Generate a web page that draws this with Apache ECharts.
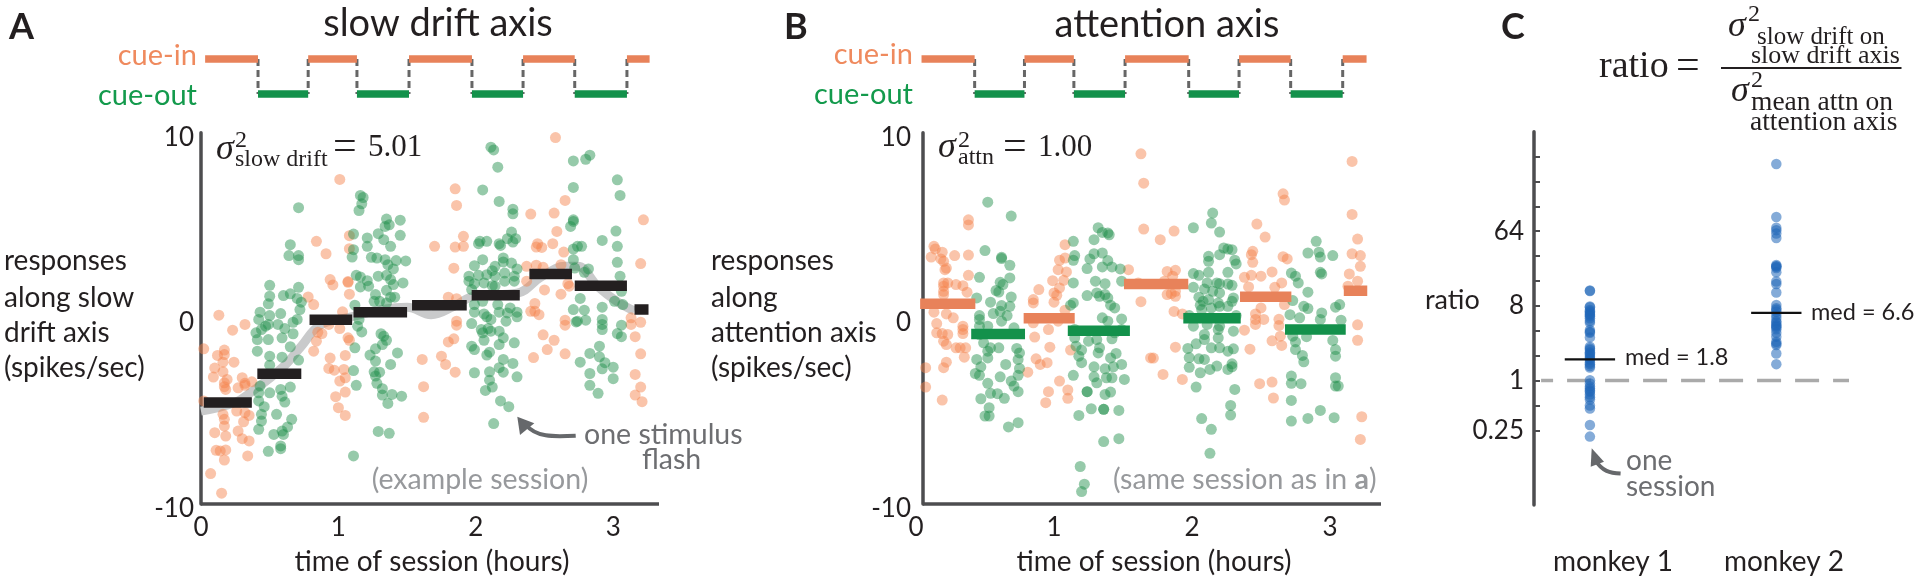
<!DOCTYPE html>
<html>
<head>
<meta charset="utf-8">
<title>slow drift and attention axes</title>
<script src="https://cdn.jsdelivr.net/npm/echarts@6/dist/echarts.min.js"></script>
<style>
html, body { margin: 0; padding: 0; background: #fff; }
#chart { width: 1920px; height: 581px; }
</style>
</head>
<body>
<div id="chart"></div>
<script>
// panel A: hours, spikes/sec
const slowCueEdges = [0.03, 0.415, 0.78, 1.135, 1.514, 1.972, 2.344, 2.72, 3.10, 3.265]
const slowOrange = [[1.01,7.48],[.84,4.15],[.91,3.48],[1.08,4.45],[1.08,3.75],[.94,2.09],[.96,1.8],[1.07,1.98],[1.07,1.94],[1.08,1.3],[.78,1.15],[.82,.74],[.13,.17],[.32,-.33],[.23,-.64],[1.03,.35],[1.01,-.55],[.93,-.33],[1.07,-1.05],[1.08,-1.18],[.85,-.75],[.84,-1.23],[.88,-.82],[.82,-1.77],[.02,-1.64],[.17,-1.71],[.12,-2],[.17,-1.95],[.16,-2.36],[.24,-2.36],[.1,-2.68],[.16,-2.88],[.09,-3.16],[.19,-3.29],[.17,-3.47],[.17,-3.68],[.18,-3.83],[.3,-3.2],[.32,-3.5],[.27,-3.74],[.37,-3.42],[.32,-3.61],[.94,-2.14],[1.05,-2],[.93,-2.7],[.97,-2.79],[1.04,-2.75],[1.01,-3.38],[1.05,-3.2],[.98,-4.22],[1.05,-3.97],[1,-4.81],[1.05,-5.23],[1.61,-2.21],[1.62,-3.68],[1.62,-5.33],[.02,-4.45],[.26,-4.99],[.32,-5.08],[.35,-5.23],[.16,-5.17],[.17,-5.44],[.17,-5.8],[.31,-5.57],[.27,-6.07],[.1,-6.16],[.18,-6.34],[.3,-6.48],[.35,-6.6],[.11,-7.11],[.14,-7.14],[.18,-7.09],[.17,-7.63],[.34,-7.41],[.07,-8.36],[.15,-9.42],
    [2.58,9.74],[1.85,6.98],[1.86,6.08],[2.65,6.35],[2.4,5.62],[2.57,5.67],[2.59,4.68],[1.91,4.42],[1.7,3.88],[1.85,3.84],[1.91,3.88],[2.56,4.02],[2.45,4.02],[2.44,3.84],[2.48,3.82],[2.64,3.57],[3.2,2.95],[3.22,5.31],[1.84,2.7],[2.37,2.8],[2.44,2.86],[2.49,2.75],[2.62,2.89],[2.37,2],[2.5,1.53],[2.62,1.3],[2.67,1.87],[2.68,1.73],[1.8,1.14],[1.86,1.06],[2.43,.8],[2.4,.38],[2.43,.38],[2.46,.2],[1.86,-.15],[1.86,-.37],[2.65,-.1],[2.65,-.37],[3.13,.03],[3.13,-.33],[3.2,-.21],[3.16,-.99],[1.84,-1.1],[1.8,-1.27],[2.49,-.89],[2.57,-1.18],[2.52,-1.68],[2.42,-2.11],[2.65,-1.91],[3.2,-1.91],[1.75,-2.04],[1.78,-2.48],[1.85,-2.9],[3.16,-3.02],[3.2,-3.7],[3.16,-4.13],[3.21,-4.49]]
const slowGreen = [[.71,5.96],[1.16,6.62],[1.18,6.51],[1.17,6.17],[1.15,5.81],[.65,3.97],[.64,3.38],[.71,3.38],[.71,3.16],[1.35,5.35],[1.45,5.29],[1.37,5.04],[1.34,4.95],[1.29,4.56],[1.45,4.47],[1.33,4.24],[1.11,4.54],[1.21,4.33],[1.21,3.88],[1.38,3.88],[1.11,3.7],[1.1,3.3],[1.24,3.29],[1.28,3.25],[1.34,3.16],[1.49,3.09],[1.42,3.11],[1.36,2.89],[1.4,2.66],[1.13,2.32],[1.16,2.23],[1.29,2.27],[1.35,2.32],[1.21,2.03],[1.22,1.73],[1.16,1.69],[1.38,2.09],[1.4,1.82],[1.47,1.91],[.5,1.78],[.71,1.67],[.65,1.32],[.6,1.23],[.5,1.19],[.49,.78],[.7,1.07],[.73,.87],[.72,.47],[1.27,1.28],[1.35,1.51],[1.41,1.14],[1.38,1.14],[1.26,.92],[1.3,.92],[1.35,.83],[1.12,.71],[.43,.33],[.5,.15],[.58,.26],[.42,-.06],[.49,-.33],[.56,-.33],[.7,-.06],[.67,-.21],[.47,-.42],[.44,-.6],[.4,-.78],[.41,-1.14],[.49,-1.14],[.61,-.55],[.67,-.83],[.59,-1.05],[.65,-1.53],[1.15,-.06],[1.14,-.42],[1.17,-.73],[1.31,-.83],[1.33,-.96],[1.35,-1.18],[1.32,-1.41],[1.27,-1.64],[1.23,-1.98],[1.43,-1.86],[1.12,-1.59],[.41,-1.77],[.5,-2.04],[.59,-2.09],[.71,-2.25],[.5,-2.52],[1.27,-2.3],[1.38,-2.48],[1.11,-2.81],[1.13,-3.61],[1.26,-2.88],[1.3,-2.9],[1.27,-3.11],[1.28,-3.5],[1.32,-3.79],[1.32,-4.13],[1.39,-4.1],[1.46,-4.19],[1.36,-4.58],[.43,-3.65],[.42,-4.01],[.42,-4.45],[.5,-4.01],[.58,-3.83],[.59,-4.19],[.65,-3.7],[.61,-4.51],[.46,-4.76],[.44,-5.17],[.55,-5.17],[.44,-5.53],[.66,-5.44],[.42,-5.98],[.63,-5.85],[.59,-6.07],[.53,-6.25],[.6,-6.25],[1.29,-6.09],[1.37,-6.19],[.58,-6.87],[.58,-7.02],[.49,-7.16],[1.11,-7.41],
    [2.11,9.22],[2.13,9.07],[2.16,8.14],[2.05,6.92],[2.17,6.3],[2.27,5.88],[2.27,5.63],[2.71,8.48],[2.8,8.57],[2.83,8.79],[2.71,7.05],[3.03,7.46],[3.05,6.62],[2.71,5.31],[2.71,5.22],[2.69,4.95],[3.02,4.7],[2.26,4.65],[2.23,4.29],[2.29,4.29],[2.03,4.15],[2.02,4.02],[2.08,4.15],[2.17,4.02],[2.18,3.93],[2.27,4.11],[2.74,3.88],[2.77,3.88],[2.71,3.73],[2.92,4.2],[3.03,3.88],[2.05,3.16],[2.2,3.25],[2.2,3.04],[2.26,2.98],[1.99,2.84],[2.14,2.8],[2.12,2.57],[2.3,2.66],[2.71,3.16],[2.72,2.71],[3.03,3.02],[2.82,2.66],[2.79,2.48],[1.95,2.27],[1.95,2],[2.02,2.32],[2.08,2.35],[2.14,2.27],[2.21,2.44],[2.28,2.27],[2.28,2],[1.99,1.87],[2.06,1.91],[2.12,1.76],[2.21,2],[3.05,2.27],[1.97,1.55],[2.14,1.73],[3.06,1.46],[1.99,.74],[2.05,.92],[2.16,.74],[1.99,.33],[2.06,.24],[2.17,.33],[2.25,.56],[2.23,.29],[2.3,.33],[2.3,.08],[2.08,.08],[2.11,-.06],[2.22,-.15],[1.97,-.28],[2.76,1.07],[2.92,.6],[2.71,.47],[2.79,.44],[2.8,-.1],[2.74,-.15],[2.73,-.19],[2.92,-.06],[2.92,-.33],[2.92,-.6],[2.04,-.6],[2.09,-.55],[2.05,-.78],[2.11,-.69],[2.17,-.69],[2.2,-1.05],[2.06,-1.18],[3.01,.92],[3.07,.74],[3.06,-.37],[3.03,-.82],[3.06,-.99],[2.28,-1.32],[1.97,-1.5],[1.99,-1.68],[2.17,-1.41],[2.9,-1.5],[2.1,-1.82],[2.08,-1.98],[2.83,-1.89],[2.9,-2.07],[2.94,-2.39],[2.76,-2.36],[2.2,-2.21],[2.27,-2.43],[2.17,-2.66],[2.2,-2.9],[1.99,-2.93],[2.1,-2.88],[2.92,-2.72],[3,-2.63],[2.83,-2.97],[3,-3.25],[2.1,-3.33],[2.3,-3.15],[2.12,-3.7],[2.07,-3.88],[2.83,-3.61],[2.89,-4.04],[2.18,-4.45],[2.24,-4.76],[2.13,-5.67]]
const slowDriftCurve = [[0,-5],[.24,-4.55],[.36,-4],[.6,-2.6],[.73,-1.5],[.86,-.4],[1.04,0],[1.5,.6],[1.675,.2],[1.84,.65],[1.99,1.2],[2.3,1.35],[2.48,2.25],[2.65,2.8],[2.74,2.8],[2.89,1.7],[3.03,.9],[3.155,.4]]
const slowMeanStart = [.02, .41, .79, 1.11, 1.536, 1.97, 2.39, 2.72, 3.155]
const slowMeanEnd = [.37, .73, 1.10, 1.50, 1.934, 2.32, 2.70, 3.10, 3.257]
const slowMeanValue = [-4.53, -2.99, -.07, .33, .71, 1.24, 2.39, 1.76, .47]

// panel B: hours, spikes/sec
const attnCueEdges = [0.04, 0.425, 0.786, 1.144, 1.515, 1.976, 2.341, 2.715, 3.092, 3.265]
const attnOrange = [[1.63,8.86],[1.65,7.28],[1.65,4.81],[.38,5.31],[.38,5.03],[.13,3.88],[.14,3.73],[.19,3.56],[.11,3.3],[.28,3.38],[.38,3.41],[.18,3.2],[.2,3.07],[.22,2.71],[.21,2.62],[.38,2.32],[.23,1.91],[.2,1.91],[.2,1.73],[.2,1.46],[.29,1.82],[.34,1.76],[.37,1.41],[.2,1.28],[1.08,3.97],[1.08,3.25],[1.04,3.13],[1.03,2.62],[1.09,2.5],[.99,2.03],[1.07,2.05],[1.04,1.64],[1,1.37],[1.02,1.24],[.89,1.55],[.85,1.01],[.85,.83],[1,.87],[1.08,.44],[1.54,2.62],[1.61,1.91],[1.63,.9],[.13,.33],[.22,.24],[.27,.03],[.15,-.28],[.34,-.42],[.34,-.6],[.15,-.78],[.19,-.82],[.23,-.87],[.34,-.82],[.2,-1.23],[.22,-1.41],[.29,-1.59],[.32,-1.59],[.36,-1.59],[.35,-2.09],[.22,-2.36],[.2,-2.66],[.07,-2.66],[.07,-3.7],[.19,-4.4],[.85,-.24],[.96,-.6],[.86,-1.01],[.97,-1.55],[1.03,-.15],[1.12,-1.71],[.87,-2.18],[.9,-2.48],[.95,-2.39],[.81,-2.9],[1.04,-3.38],[1.1,-3.86],[.96,-3.95],[1.1,-4.31],[.94,-4.54],[1.7,-2.13],
    [3.16,8.45],[2.66,6.71],[2.67,6.37],[3.16,5.6],[1.87,4.7],[2.47,5.08],[1.77,4.24],[2.53,4.38],[3.2,4.27],[2.44,3.61],[2.43,3.43],[2.66,3.32],[2.69,3.2],[3.16,3.48],[3.22,3.38],[2.44,3.02],[3.22,2.8],[2.58,2.5],[1.82,2.53],[1.88,2.59],[1.86,2.27],[2.38,2.21],[2.43,2.32],[2.5,2.27],[3.14,2.39],[1.8,2],[2.41,1.69],[2.65,1.91],[2.6,1.67],[3.2,2],[3.13,1.73],[1.82,1.28],[1.85,1.33],[1.88,1.19],[1.88,1.46],[2.67,.74],[2.5,.56],[1.87,.37],[1.93,.24],[2.46,.24],[2.46,-.06],[2.52,-.06],[2.63,-.05],[2.63,-.39],[2.46,-.33],[2.38,-.64],[2.64,-.96],[2.58,-1.21],[2.65,-1.46],[3.2,-.35],[3.2,-1.18],[1.88,-1.55],[2.42,-1.66],[1.72,-2.14],[1.79,-3.02],[1.93,-3.29],[2.49,-3.52],[2.58,-3.43],[2.59,-4.29],[3.23,-5.3],[3.22,-6.52]]
const attnGreen = [[.52,6.26],[.69,5.51],[1.32,4.88],[1.35,4.63],[1.39,4.6],[1.4,4.5],[1.29,4.24],[1.14,4.15],[.5,3.65],[1.29,3.48],[1.35,3.52],[1.15,3.38],[1.14,3.13],[.62,3.29],[.62,3.22],[.68,2.86],[1.26,3.2],[1.39,3.11],[1.24,2.68],[1.35,2.77],[1.42,2.77],[1.48,2.66],[.46,2.21],[.68,2.18],[.61,1.94],[.63,1.82],[.58,1.5],[.6,1.42],[1.14,1.91],[1.3,2],[1.37,1.87],[1.49,2],[.69,1.15],[.44,1.1],[1.24,1.23],[1.31,1.37],[1.33,1.19],[1.37,1.28],[1.39,1.1],[1.14,.83],[1.12,.71],[.54,.87],[.62,.69],[.68,.65],[.61,.38],[1.41,.71],[1.44,.56],[.46,.15],[.46,-.06],[.56,.26],[.66,.15],[.62,-.15],[1.35,.03],[1.39,-.15],[1.49,-.03],[.46,-.42],[.52,-.42],[.71,-.51],[1.15,-.6],[1.49,-.6],[1.44,-.78],[.46,-.87],[.49,-1.32],[.54,-1.59],[.6,-1.59],[.52,-1.77],[.73,-1.62],[.75,-1.86],[.74,-2.21],[.44,-2.21],[.52,-2.13],[.47,-2.61],[.65,-2.48],[.75,-2.7],[.74,-3.07],[.43,-2.97],[.46,-3.07],[.61,-3.15],[.52,-3.5],[.69,-3.38],[.71,-3.65],[.74,-3.95],[.54,-4.04],[.59,-4.06],[.64,-4.31],[.47,-4.33],[.53,-4.81],[.5,-5.26],[.53,-5.26],[.67,-5.85],[.74,-5.62],[1.15,-1.05],[1.25,-1.23],[1.31,-1.14],[1.42,-1.1],[1.16,-1.5],[1.33,-1.59],[1.2,-1.71],[1.18,-2.04],[1.2,-2.39],[1.32,-1.86],[1.41,-2.13],[1.45,-1.89],[1.49,-2.48],[1.43,-2.61],[1.37,-2.72],[1.29,-2.61],[1.14,-3.07],[1.29,-3.15],[1.31,-3.47],[1.38,-3.2],[1.42,-3.2],[1.51,-3.29],[1.24,-3.95],[1.24,-3.95],[1.37,-4.1],[1.41,-3.97],[1.27,-4.87],[1.36,-4.9],[1.36,-4.9],[1.47,-4.96],[1.18,-5.23],[1.36,-6.64],[1.47,-6.48],[1.19,-7.98],[1.22,-8.93],[1.2,-9.33],
    [2.15,5.67],[2.14,5.13],[2.01,4.88],[2.2,4.65],[2.23,3.79],[2.26,3.73],[2.29,3.7],[2.2,3.43],[2.12,3.34],[2.12,3.07],[2.31,3.13],[2.32,2.93],[2.84,3.52],[2.9,4.15],[2.92,3.56],[2.93,3.3],[3.02,3.38],[2.01,2.41],[2.05,2.32],[2.12,2.48],[2.26,2.48],[2.93,2.48],[2.94,2.39],[2.72,2.44],[2.75,2.27],[2.77,1.91],[2.18,1.91],[2.2,1.87],[2.26,1.85],[2.11,1.91],[2.29,1.78],[2.01,1.67],[2.09,1.58],[2.15,1.46],[2.05,1.14],[2.2,1.37],[2.3,1.1],[2.84,1.41],[2.08,.92],[2.12,1.01],[2.19,.83],[2.29,.92],[2.26,.65],[2.06,.71],[2.07,.47],[2.14,.56],[2.2,.65],[2.73,.96],[2.81,.65],[2.84,.53],[3.04,.6],[3.07,.74],[2.94,.29],[1.98,.15],[2.32,.15],[2.71,.2],[2.78,.03],[2.93,-.06],[3.08,-.1],[2.01,-.42],[2.11,-.33],[2.2,-.42],[2.3,-.69],[2.19,-.6],[2.09,-.87],[2.19,-1.05],[2.09,-1.14],[2.03,-1.37],[2.14,-1.59],[2.2,-1.59],[1.97,-1.62],[2.3,-1.64],[2.26,-1.77],[2.73,-.96],[2.83,-.99],[2.75,-1.27],[3.02,-1.19],[2.75,-1.68],[3.04,-1.68],[2.8,-2],[3.04,-2.04],[1.98,-2.11],[2.05,-2.18],[2.09,-2.21],[2.81,-2.34],[1.98,-2.64],[2.13,-2.75],[2.06,-2.93],[2.18,-2.57],[2.26,-2.75],[2.29,-2.45],[2.29,-2.61],[2.72,-3.11],[2.72,-3.5],[2.79,-3.52],[3.04,-3.2],[3.04,-3.65],[3.06,-3.65],[2.03,-3.7],[2.31,-3.83],[2.72,-4.42],[2.28,-4.69],[2.28,-5.21],[2.93,-4.96],[2.07,-5.4],[2.14,-5.98],[2.72,-5.53],[2.84,-5.39],[3.03,-5.35],[2.13,-7.27]]
const attnOrangeStart = [.03, .78, 1.507, 2.348, 3.10]
const attnOrangeEnd = [.43, 1.15, 1.973, 2.72, 3.27]
const attnOrangeValue = [.78, .01, 1.85, 1.17, 1.49]
const attnGreenStart = [.40, 1.10, 1.937, 2.674]
const attnGreenEnd = [.79, 1.55, 2.353, 3.114]
const attnGreenValue = [-.84, -.67, 0, -.6]

// panel C: ratio per session
const monkey1Ratio = [12.3,12.1,7.85,7.7,7.16,6.9,6.64,6.4,6.23,6,5.67,5.3,5.02,4.09,3.9,3.79,3.33,2.56,2.45,2.34,2.2,2.13,2.05,1.94,1.85,1.77,1.65,1.58,1.5,1.44,1.01,.92,.85,.8,.76,.73,.68,.63,.59,.5,.46,.29,.21]
const monkey2Ratio = [416,95,70.6,66,60,53,25,24.2,24,23,20.4,15.8,14.7,11.6,8.2,7.5,7.2,6.8,6.2,5.7,5.2,5,4.7,4.57,4.4,4.17,3.8,3.4,2.95,2.8,2.69,2.13,1.58]
const monkey1Median = 1.8
const monkey2Median = 6.6
const ratioTickExp = [-2, -1, 0, 1, 2, 3, 4, 5, 6, 7, 8, 9]
const ratioLabelExp = [-2, 0, 3, 6]
const unityRatio = 1

const hourTicks = [0, 1, 2, 3]
const responseTicks = [-10, 0, 10]

const ORANGE_DOT = '#f4814a'
const GREEN_DOT = '#1f8f4a'
const ORANGE_BAR = '#e8825a'
const GREEN_BAR = '#13914b'
const AXIS = '#4d4d4f'
const TEXT = '#231f20'
const GREY_TEXT = '#6d6e71'
const LIGHT_TEXT = '#97999c'
const SANS = 'Lato, "Noto Sans", sans-serif'
const SERIF = '"Liberation Serif", serif'

function segments (starts, ends, values) {
    let out = []
    starts.forEach((s, i) => {
        out.push([s, values[i]], [ends[i], values[i]], [ends[i], null])
    })
    return out
}

// cue strip: in-cue on odd runs, out-cue on even runs
function cueRuns (edges, level, first) {
    let out = []
    for (let i = first; i < edges.length - 1; i += 2) {
        out.push([edges[i], level], [edges[i + 1], level], [edges[i + 1], null])
    }
    return out
}

function cueLinks (edges) {
    let out = []
    edges.slice(1, -1).forEach(e => {
        out.push([e, 1], [e, 0], [e, null])
    })
    return out
}

function lineSeries (grid, data, color, width, z, extra) {
    return Object.assign({
        type: 'line',
        xAxisIndex: grid,
        yAxisIndex: grid,
        data: data,
        showSymbol: false,
        symbol: 'none',
        silent: true,
        clip: false,
        z: z,
        lineStyle: { color: color, width: width, cap: 'butt' }
    }, extra || {})
}

function dots (grid, data, color) {
    return {
        type: 'scatter',
        xAxisIndex: grid,
        yAxisIndex: grid,
        data: data,
        symbolSize: 11,
        silent: true,
        clip: false,
        z: 3,
        itemStyle: { color: color, opacity: 0.47, borderWidth: 0 }
    }
}

function txt (text, x, y, size, fill, opts) {
    opts = opts || {}
    return {
        type: 'text',
        silent: true,
        z: 20,
        style: {
            text: text,
            x: x,
            y: y,
            font: (opts.weight || 'normal') + ' ' + size + 'px ' + (opts.family || SANS),
            fill: fill,
            textAlign: opts.align || 'left',
            textVerticalAlign: 'middle',
            rich: opts.rich
        }
    }
}

function responseAxes (left, width, max, offset, labelMargin) {
    return {
        grid: { left: left, top: 132.7, width: width, height: 371.3 },
        xAxis: {
            type: 'value', min: 0, max: max, splitLine: { show: false },
            axisLine: { show: false }, axisTick: { show: false },
            axisLabel: { customValues: hourTicks, margin: 11, fontSize: 26, fontFamily: SANS, color: TEXT }
        },
        yAxis: {
            type: 'value', min: -10, max: 10, offset: offset, splitLine: { show: false },
            axisLine: { show: true, onZero: false, lineStyle: { color: AXIS, width: 3.5 } }, axisTick: { show: false },
            axisLabel: { customValues: responseTicks, margin: labelMargin, fontSize: 26, fontFamily: SANS, color: TEXT, verticalAlign: 'top', lineHeight: 9 }
        }
    }
}

function cueAxes (left, width, max) {
    return {
        grid: { left: left, top: 59, width: width, height: 35 },
        xAxis: { type: 'value', min: 0, max: max, show: false },
        yAxis: { type: 'value', min: 0, max: 1, show: false }
    }
}

function arrow (curve, head) {
    return [
        { type: 'bezierCurve', silent: true, z: 19, shape: curve, style: { stroke: '#66686b', lineWidth: 4, fill: null } },
        { type: 'polygon', silent: true, z: 19, shape: { points: head }, style: { fill: '#66686b' } }
    ]
}

let slow = responseAxes(201, 458, 458 / 137.4, 0, 7)
let attn = responseAxes(916, 465, 465 / 138, -7, 12)
let slowCue = cueAxes(201, 458, 458 / 137.4)
let attnCue = cueAxes(916, 465, 465 / 138)

let ratioGrid = { left: 1534, top: 131.7, width: 315, height: 373.3 }
let ratioX = { type: 'value', min: 0.7, max: 2.39, show: false }
let ratioY = {
    type: 'value', min: -5, max: 10, splitLine: { show: false },
    axisLine: { show: true, onZero: false, lineStyle: { color: AXIS, width: 3.5 } },
    axisTick: { show: true, inside: true, length: 6, customValues: ratioTickExp, lineStyle: { color: AXIS, width: 2 } },
    axisLabel: {
        customValues: ratioLabelExp, margin: 10, fontSize: 26, fontFamily: SANS, color: TEXT,
        formatter: v => String(Math.pow(2, v))
    }
}

let series = [
    // panel A
    lineSeries(0, slowDriftCurve, '#c9cacb', 9, 2, { smooth: 0.4 }),
    dots(0, slowOrange, ORANGE_DOT),
    dots(0, slowGreen, GREEN_DOT),
    lineSeries(0, segments(slowMeanStart, slowMeanEnd, slowMeanValue), '#231f20', 10.5, 5),
    lineSeries(0, [[0, -10], [458 / 137.4, -10]], AXIS, 3.5, 4),
    // panel B
    dots(1, attnOrange, ORANGE_DOT),
    dots(1, attnGreen, GREEN_DOT),
    lineSeries(1, segments(attnOrangeStart, attnOrangeEnd, attnOrangeValue), ORANGE_BAR, 10.5, 5),
    lineSeries(1, segments(attnGreenStart, attnGreenEnd, attnGreenValue), GREEN_BAR, 10.5, 6),
    lineSeries(1, [[0.05, -10], [465 / 138, -10]], AXIS, 3.5, 4),
    // cue strips
    lineSeries(2, cueLinks(slowCueEdges), '#666', 3, 2, { lineStyle: { color: '#666', width: 3, type: [7, 4] } }),
    lineSeries(2, cueRuns(slowCueEdges, 1, 0), ORANGE_BAR, 7.5, 3),
    lineSeries(2, cueRuns(slowCueEdges, 0, 1), GREEN_BAR, 7.5, 3),
    lineSeries(3, cueLinks(attnCueEdges), '#666', 3, 2, { lineStyle: { color: '#666', width: 3, type: [7, 4] } }),
    lineSeries(3, cueRuns(attnCueEdges, 1, 0), ORANGE_BAR, 7.5, 3),
    lineSeries(3, cueRuns(attnCueEdges, 0, 1), GREEN_BAR, 7.5, 3),
    // panel C
    lineSeries(4, [[0.738, Math.log2(unityRatio)], [2.39, Math.log2(unityRatio)]], '#aaaaaa', 3.5, 2, {
        lineStyle: { color: '#aaaaaa', width: 3.5, type: [24, 14], dashOffset: 12 }
    }),
    {
        type: 'scatter', xAxisIndex: 4, yAxisIndex: 4, symbolSize: 10.5, silent: true, z: 3,
        data: monkey1Ratio.map(v => [1, Math.log2(v)]),
        itemStyle: { color: '#1f66b8', opacity: 0.55, borderWidth: 0 }
    },
    {
        type: 'scatter', xAxisIndex: 4, yAxisIndex: 4, symbolSize: 10.5, silent: true, z: 3,
        data: monkey2Ratio.map(v => [2, Math.log2(v)]),
        itemStyle: { color: '#1f66b8', opacity: 0.55, borderWidth: 0 }
    },
    lineSeries(4, [[0.865, Math.log2(monkey1Median)], [1.135, Math.log2(monkey1Median)]], '#111', 2.2, 6),
    lineSeries(4, [[1.865, Math.log2(monkey2Median)], [2.135, Math.log2(monkey2Median)]], '#111', 2.2, 6)
]

let graphic = [
    txt('A', 9, 27, 36, TEXT, { weight: 'bold' }),
    txt('slow drift axis', 438, 24, 38, TEXT, { align: 'center' }),
    txt('cue-in', 197, 56, 29, '#ef8a5e', { align: 'right' }),
    txt('cue-out', 197, 96, 29, '#139a4c', { align: 'right' }),
    txt('responses', 4, 261, 28, TEXT),
    txt('along slow', 4, 298, 28, TEXT),
    txt('drift axis', 4, 333, 28, TEXT),
    txt('(spikes/sec)', 4, 368, 28, TEXT),
    txt('time of session (hours)', 432, 562, 28, TEXT, { align: 'center' }),
    txt('(example session)', 480, 480, 28.5, LIGHT_TEXT, { align: 'center' }),
    txt('one stimulus', 584, 435, 28.5, GREY_TEXT),
    txt('flash', 642, 460, 28.5, GREY_TEXT),
    txt('σ', 216, 150, 36, TEXT, { family: SERIF, weight: 'italic' }),
    txt('2', 235, 141, 24, TEXT, { family: SERIF }),
    txt('slow drift', 235, 160, 24, TEXT, { family: SERIF }),
    txt('=', 333, 148, 42, TEXT, { family: SERIF }),
    txt('5.01', 368, 148, 31, TEXT, { family: SERIF }),

    txt('B', 784, 27, 36, TEXT, { weight: 'bold' }),
    txt('attention axis', 1167, 25, 38, TEXT, { align: 'center' }),
    txt('cue-in', 913, 55, 29, '#ef8a5e', { align: 'right' }),
    txt('cue-out', 913, 95, 29, '#139a4c', { align: 'right' }),
    txt('responses', 711, 261, 28, TEXT),
    txt('along', 711, 298, 28, TEXT),
    txt('attention axis', 711, 333, 28, TEXT),
    txt('(spikes/sec)', 711, 368, 28, TEXT),
    txt('time of session (hours)', 1154, 562, 28, TEXT, { align: 'center' }),
    txt('(same session as in {b|a})', 1113, 480, 28.5, LIGHT_TEXT, {
        rich: { b: { font: 'bold 28.5px Lato, sans-serif', fill: LIGHT_TEXT } }
    }),
    txt('σ', 938, 148, 36, TEXT, { family: SERIF, weight: 'italic' }),
    txt('2', 958, 141, 24, TEXT, { family: SERIF }),
    txt('attn', 958, 158, 24, TEXT, { family: SERIF }),
    txt('=', 1003, 148, 42, TEXT, { family: SERIF }),
    txt('1.00', 1038, 148, 31, TEXT, { family: SERIF }),

    txt('C', 1501, 27, 36, TEXT, { weight: 'bold' }),
    txt('ratio', 1599, 67, 38, TEXT, { family: SERIF }),
    txt('=', 1676, 67, 42, TEXT, { family: SERIF }),
    txt('σ', 1728, 27, 36, TEXT, { family: SERIF, weight: 'italic' }),
    txt('2', 1748, 15, 24, TEXT, { family: SERIF }),
    txt('slow drift on', 1757, 37, 25, TEXT, { family: SERIF }),
    txt('slow drift axis', 1751, 56, 26, TEXT, { family: SERIF }),
    txt('σ', 1731, 92, 36, TEXT, { family: SERIF, weight: 'italic' }),
    txt('2', 1751, 81, 24, TEXT, { family: SERIF }),
    txt('mean attn on', 1751, 103, 27.5, TEXT, { family: SERIF }),
    txt('attention axis', 1750, 123, 27.5, TEXT, { family: SERIF }),
    {
        type: 'rect', silent: true, z: 20,
        shape: { x: 1721, y: 67, width: 180.5, height: 2 },
        style: { fill: TEXT }
    },
    txt('ratio', 1425, 300, 27, TEXT),
    txt('med = 1.8', 1625, 357, 23.5, TEXT),
    txt('med = 6.6', 1811, 312, 23.5, TEXT),
    txt('one', 1626, 461, 28, GREY_TEXT),
    txt('session', 1626, 487, 28, GREY_TEXT),
    txt('monkey 1', 1613, 562, 28, TEXT, { align: 'center' }),
    txt('monkey 2', 1784, 562, 28, TEXT, { align: 'center' })
].concat(
    arrow({ x1: 575.7, y1: 435.7, cpx1: 552, cpy1: 437, cpx2: 536, cpy2: 437, x2: 526, y2: 425 },
        [[517.3, 416.7], [520, 435], [534.3, 423.3]]),
    arrow({ x1: 1620.6, y1: 473.6, cpx1: 1610, cpy1: 473, cpx2: 1602, cpy2: 471, x2: 1596, y2: 461 },
        [[1591.7, 448.3], [1590.7, 466.7], [1604, 461.7]])
)

let myChart = echarts.init(document.getElementById('chart'), null, { renderer: 'canvas' })
myChart.setOption({
    backgroundColor: '#fff',
    animation: false,
    grid: [slow.grid, attn.grid, slowCue.grid, attnCue.grid, ratioGrid],
    xAxis: [slow.xAxis, attn.xAxis, slowCue.xAxis, attnCue.xAxis, ratioX]
        .map((a, i) => Object.assign(a, { gridIndex: i })),
    yAxis: [slow.yAxis, attn.yAxis, slowCue.yAxis, attnCue.yAxis, ratioY]
        .map((a, i) => Object.assign(a, { gridIndex: i })),
    series: series,
    graphic: graphic
})
</script>
</body>
</html>
